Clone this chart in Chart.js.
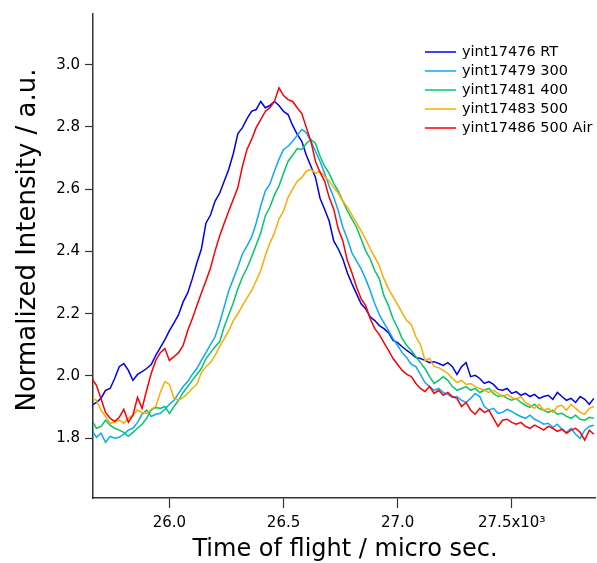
<!DOCTYPE html>
<html>
<head>
<meta charset="utf-8">
<script src="https://cdn.jsdelivr.net/npm/chart.js@4.4.1/dist/chart.umd.min.js"></script>
<style>
 html, body { margin: 0; padding: 0; background: #fff; }
 canvas { display: block; }
</style>
</head>
<body>
<canvas id="tof" width="597" height="563"></canvas>
<script>
// time of flight (x10^3 micro sec.)
const times = [
 25.66, 25.68, 25.70, 25.72, 25.74, 25.76, 25.78, 25.80, 25.82, 25.84,
 25.86, 25.88, 25.90, 25.92, 25.94, 25.96, 25.98, 26.00, 26.02, 26.04,
 26.06, 26.08, 26.10, 26.12, 26.14, 26.16, 26.18, 26.20, 26.22, 26.24,
 26.26, 26.28, 26.30, 26.32, 26.34, 26.36, 26.38, 26.40, 26.42, 26.44,
 26.46, 26.48, 26.50, 26.52, 26.54, 26.56, 26.58, 26.60, 26.62, 26.64,
 26.66, 26.68, 26.70, 26.72, 26.74, 26.76, 26.78, 26.80, 26.82, 26.84,
 26.86, 26.88, 26.90, 26.92, 26.94, 26.96, 26.98, 27.00, 27.02, 27.04,
 27.06, 27.08, 27.10, 27.12, 27.14, 27.16, 27.18, 27.20, 27.22, 27.24,
 27.26, 27.28, 27.30, 27.32, 27.34, 27.36, 27.38, 27.40, 27.42, 27.44,
 27.46, 27.48, 27.50, 27.52, 27.54, 27.56, 27.58, 27.60, 27.62, 27.64,
 27.66, 27.68, 27.70, 27.72, 27.74, 27.76, 27.78, 27.80, 27.82, 27.84,
 27.86
];

const rt = [
 1.906, 1.915, 1.928, 1.954, 1.960, 1.992, 2.030, 2.040, 2.018, 1.986,
 2.005, 2.014, 2.024, 2.037, 2.066, 2.091, 2.117, 2.146, 2.171, 2.197,
 2.238, 2.267, 2.312, 2.363, 2.408, 2.491, 2.517, 2.562, 2.587, 2.626,
 2.664, 2.715, 2.779, 2.798, 2.827, 2.850, 2.856, 2.882, 2.862, 2.869,
 2.882, 2.869, 2.850, 2.840, 2.805, 2.776, 2.754, 2.709, 2.674, 2.638,
 2.571, 2.536, 2.498, 2.434, 2.408, 2.376, 2.331, 2.296, 2.264, 2.232,
 2.216, 2.190, 2.178, 2.162, 2.152, 2.139, 2.114, 2.107, 2.094, 2.082,
 2.072, 2.059, 2.056, 2.050, 2.043, 2.046, 2.040, 2.034, 2.043, 2.030,
 2.005, 2.030, 2.043, 1.998, 2.002, 1.992, 1.976, 1.982, 1.973, 1.957,
 1.954, 1.960, 1.944, 1.950, 1.938, 1.944, 1.934, 1.941, 1.928, 1.934,
 1.938, 1.925, 1.947, 1.934, 1.922, 1.928, 1.915, 1.934, 1.925, 1.909,
 1.928
];

const t300 = [
 1.826, 1.803, 1.816, 1.787, 1.806, 1.800, 1.803, 1.813, 1.826, 1.832,
 1.851, 1.877, 1.890, 1.870, 1.877, 1.880, 1.893, 1.909, 1.922, 1.944,
 1.966, 1.982, 2.005, 2.024, 2.050, 2.075, 2.101, 2.126, 2.171, 2.222,
 2.274, 2.312, 2.350, 2.392, 2.418, 2.446, 2.491, 2.546, 2.594, 2.616,
 2.658, 2.696, 2.728, 2.738, 2.754, 2.773, 2.792, 2.782, 2.754, 2.722,
 2.690, 2.651, 2.610, 2.574, 2.530, 2.478, 2.440, 2.395, 2.370, 2.344,
 2.312, 2.274, 2.232, 2.197, 2.171, 2.146, 2.120, 2.098, 2.075, 2.059,
 2.037, 2.030, 2.005, 1.979, 1.966, 1.954, 1.960, 1.947, 1.941, 1.931,
 1.934, 1.922, 1.915, 1.928, 1.944, 1.934, 1.902, 1.890, 1.896, 1.880,
 1.883, 1.893, 1.886, 1.877, 1.870, 1.864, 1.874, 1.861, 1.854, 1.845,
 1.848, 1.835, 1.845, 1.829, 1.819, 1.832, 1.813, 1.800, 1.826, 1.838,
 1.842
];

const t400 = [
 1.858, 1.832, 1.838, 1.858, 1.842, 1.832, 1.826, 1.819, 1.806, 1.819,
 1.832, 1.845, 1.864, 1.890, 1.899, 1.896, 1.902, 1.880, 1.902, 1.922,
 1.947, 1.966, 1.986, 2.005, 2.024, 2.056, 2.075, 2.094, 2.110, 2.158,
 2.197, 2.235, 2.280, 2.318, 2.347, 2.382, 2.421, 2.459, 2.514, 2.542,
 2.581, 2.610, 2.651, 2.690, 2.709, 2.731, 2.728, 2.747, 2.760, 2.747,
 2.706, 2.674, 2.651, 2.619, 2.594, 2.562, 2.530, 2.504, 2.478, 2.440,
 2.402, 2.376, 2.338, 2.312, 2.258, 2.226, 2.184, 2.155, 2.120, 2.098,
 2.082, 2.062, 2.043, 2.024, 1.998, 1.976, 1.986, 1.998, 1.986, 1.966,
 1.954, 1.960, 1.966, 1.954, 1.960, 1.947, 1.954, 1.960, 1.944, 1.934,
 1.938, 1.928, 1.922, 1.928, 1.915, 1.906, 1.899, 1.909, 1.896, 1.890,
 1.883, 1.890, 1.877, 1.880, 1.870, 1.864, 1.874, 1.861, 1.858, 1.867,
 1.864
];

const t500 = [
 1.928, 1.922, 1.890, 1.870, 1.848, 1.851, 1.858, 1.848, 1.864, 1.874,
 1.890, 1.883, 1.880, 1.893, 1.902, 1.947, 1.982, 1.973, 1.928, 1.922,
 1.931, 1.944, 1.960, 1.973, 2.011, 2.030, 2.043, 2.066, 2.094, 2.120,
 2.146, 2.178, 2.200, 2.226, 2.251, 2.274, 2.306, 2.338, 2.386, 2.427,
 2.459, 2.504, 2.530, 2.574, 2.600, 2.626, 2.638, 2.658, 2.664, 2.651,
 2.658, 2.642, 2.626, 2.606, 2.587, 2.562, 2.542, 2.517, 2.491, 2.466,
 2.440, 2.408, 2.382, 2.354, 2.312, 2.280, 2.254, 2.229, 2.203, 2.178,
 2.165, 2.126, 2.101, 2.050, 2.056, 2.030, 2.027, 2.018, 2.008, 1.992,
 1.979, 1.986, 1.973, 1.976, 1.966, 1.960, 1.954, 1.947, 1.954, 1.944,
 1.934, 1.941, 1.931, 1.925, 1.934, 1.915, 1.906, 1.896, 1.909, 1.890,
 1.896, 1.883, 1.902, 1.906, 1.890, 1.909, 1.896, 1.883, 1.877, 1.896,
 1.902
];

const t500air = [
 1.992, 1.970, 1.928, 1.883, 1.864, 1.854, 1.867, 1.893, 1.851, 1.874,
 1.931, 1.896, 1.954, 2.008, 2.050, 2.075, 2.088, 2.050, 2.062, 2.075,
 2.098, 2.146, 2.184, 2.226, 2.267, 2.306, 2.347, 2.402, 2.450, 2.491,
 2.530, 2.568, 2.606, 2.674, 2.728, 2.760, 2.798, 2.824, 2.850, 2.862,
 2.882, 2.926, 2.901, 2.888, 2.882, 2.862, 2.843, 2.798, 2.754, 2.690,
 2.654, 2.626, 2.574, 2.536, 2.472, 2.434, 2.370, 2.331, 2.286, 2.248,
 2.226, 2.184, 2.152, 2.133, 2.107, 2.082, 2.056, 2.037, 2.018, 2.005,
 1.998, 1.976, 1.960, 1.950, 1.966, 1.944, 1.954, 1.938, 1.947, 1.934,
 1.928, 1.902, 1.915, 1.890, 1.877, 1.896, 1.883, 1.890, 1.864, 1.838,
 1.858, 1.861, 1.851, 1.845, 1.851, 1.838, 1.832, 1.842, 1.835, 1.826,
 1.838, 1.832, 1.822, 1.829, 1.816, 1.826, 1.832, 1.819, 1.794, 1.826,
 1.813
];

const seriesNames = ["yint17476 RT", "yint17479 300", "yint17481 400", "yint17483 500", "yint17486 500 Air"];
const seriesColors = ["#0000f0", "#0aa8ff", "#00c868", "#ffaa00", "#ff0000"];
const xTicks = [26.0, 26.5, 27.0, 27.5];
const yTicks = [1.8, 2.0, 2.2, 2.4, 2.6, 2.8, 3.0];

const FONT = "'DejaVu Sans', sans-serif";
const seriesValues = [rt, t300, t400, t500, t500air];

const datasets = seriesValues.map((vals, i) => ({
 label: seriesNames[i],
 data: times.map((t, j) => ({ x: t, y: vals[j] })),
 borderColor: seriesColors[i],
 borderWidth: 1.5,
 pointRadius: 0,
 tension: 0,
 order: seriesValues.length - i,
}));

const overlay = {
 id: "overlay",
 afterDraw(chart) {
  const ctx = chart.ctx;
  ctx.save();
  ctx.fillStyle = "#000";
  // axis titles
  ctx.font = "24px " + FONT;
  ctx.textAlign = "center";
  ctx.textBaseline = "middle";
  ctx.fillText("Time of flight / micro sec.", 345, 550);
  ctx.font = "26px " + FONT;
  ctx.translate(28, 240);
  ctx.rotate(-Math.PI / 2);
  ctx.fillText("Normalized Intensity / a.u.", 0, 0);
  ctx.restore();

  // legend
  ctx.save();
  ctx.font = "14.5px " + FONT;
  ctx.textAlign = "left";
  ctx.textBaseline = "middle";
  seriesNames.forEach((name, i) => {
   const y = 52 + i * 19;
   ctx.strokeStyle = seriesColors[i];
   ctx.lineWidth = 1.5;
   ctx.beginPath();
   ctx.moveTo(425, y);
   ctx.lineTo(456, y);
   ctx.stroke();
   ctx.fillStyle = "#000";
   ctx.fillText(name, 462, y);
  });
  ctx.restore();
 },
};

new Chart(document.getElementById("tof"), {
 type: "line",
 data: { datasets },
 options: {
  responsive: false,
  animation: false,
  layout: { padding: { top: 12, right: 2, left: 0, bottom: 0 } },
  plugins: { legend: { display: false }, tooltip: { enabled: false } },
  scales: {
   x: {
    type: "linear",
    min: 25.665,
    max: 27.865,
    afterBuildTicks: (s) => { s.ticks = xTicks.map((v) => ({ value: v })); },
    afterFit: (s) => { s.height = 65; },
    grid: { drawOnChartArea: false, tickLength: 10, color: "#333", tickWidth: 1.2 },
    border: { color: "#333", width: 1.5 },
    ticks: {
     color: "#000",
     font: { family: FONT, size: 15 },
     padding: 6,
     maxRotation: 0,
     callback: (v) => (v === 27.5 ? "27.5x10³" : v.toFixed(1)),
    },
   },
   y: {
    min: 1.608,
    max: 3.163,
    afterBuildTicks: (s) => { s.ticks = yTicks.map((v) => ({ value: v })); },
    afterFit: (s) => { s.width = 93; },
    grid: { drawOnChartArea: false, tickLength: 8, color: "#333", tickWidth: 1.2 },
    border: { color: "#333", width: 1.5 },
    ticks: {
     color: "#000",
     font: { family: FONT, size: 15 },
     padding: 5,
     callback: (v) => v.toFixed(1),
    },
   },
  },
 },
 plugins: [overlay],
});
</script>
</body>
</html>
